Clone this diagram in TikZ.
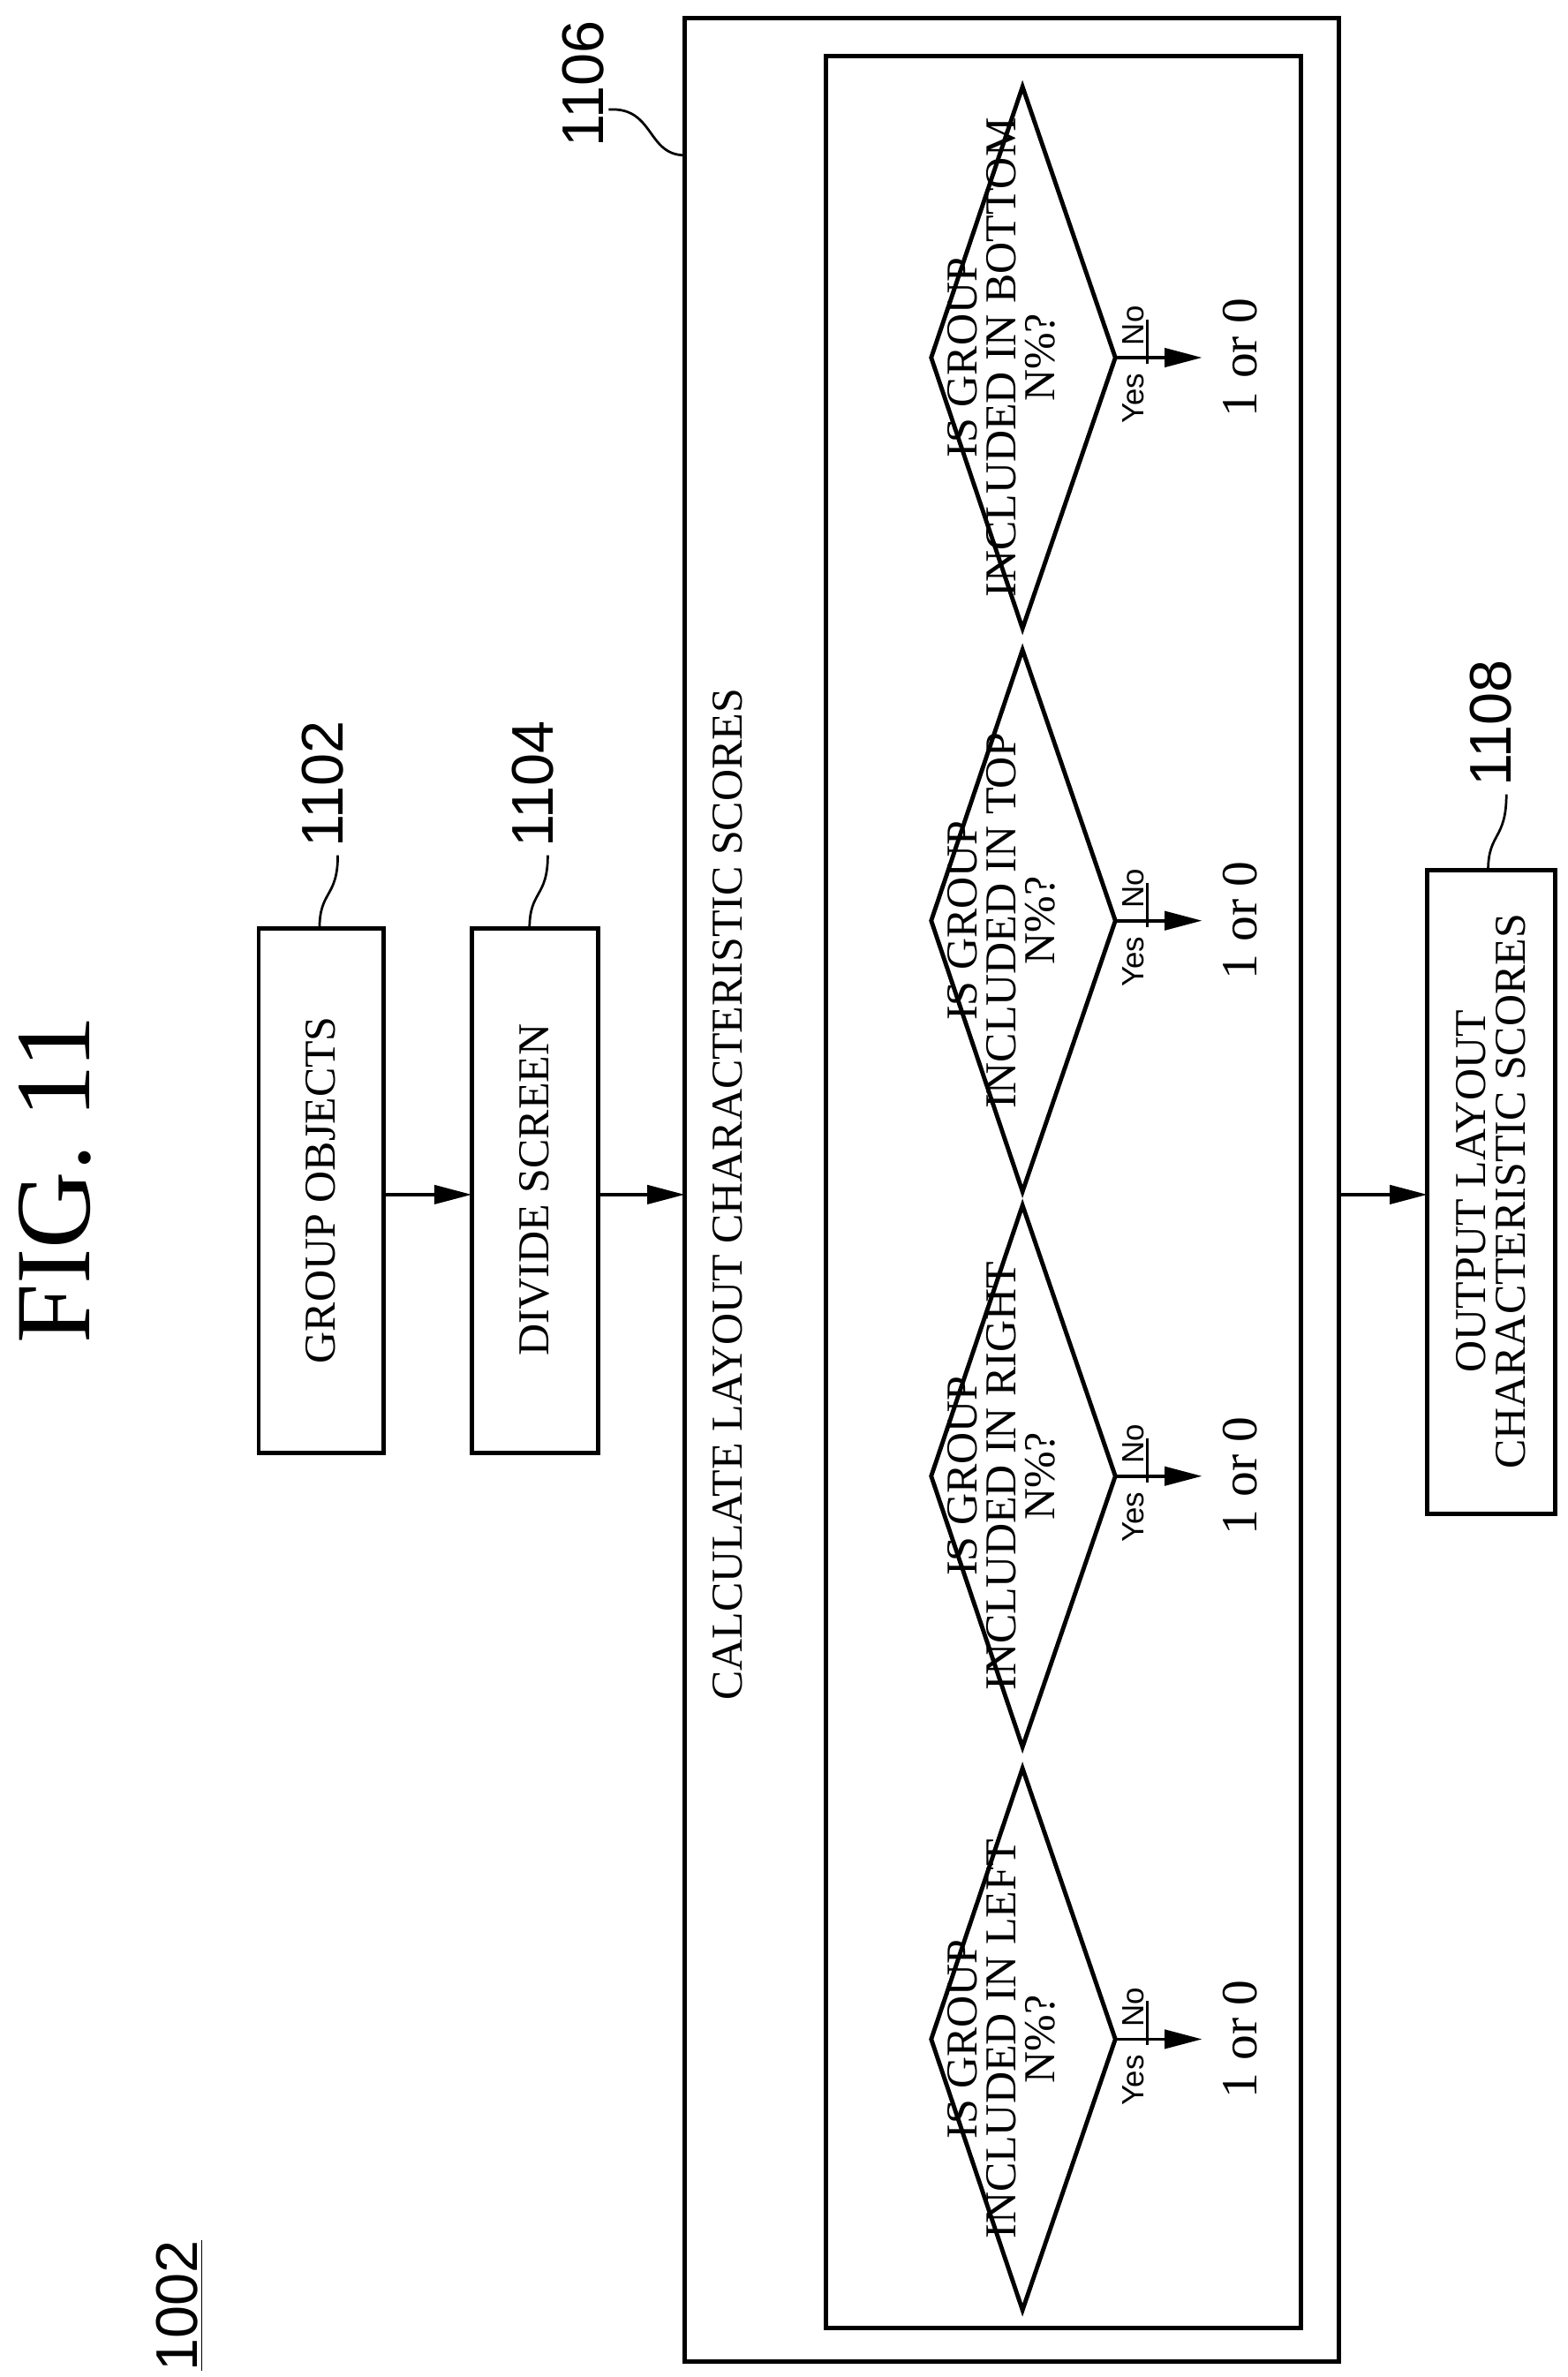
\documentclass[tikz,border=0pt]{standalone}
\usepackage{fontspec}
\setmainfont{Liberation Serif}
\newfontfamily\arial{Liberation Sans}
\usetikzlibrary{arrows.meta}
\begin{document}
\begin{tikzpicture}[x=0.02cm,y=-0.02cm,
  line width=1.6pt,
  box/.style={draw,line width=1.6pt},
  txt/.style={rotate=90,font=\fontsize{16.5}{15}\selectfont,align=center,inner sep=0},
  dtxt/.style={rotate=90,font=\fontsize{16.5}{14.5}\selectfont,align=center,inner sep=0},
  lab/.style={rotate=90,font=\arial\fontsize{22}{24}\selectfont,inner sep=0},
  yn/.style={rotate=90,font=\arial\fontsize{11.5}{12}\selectfont,inner sep=0},
  arr/.style={-{Triangle[length=14pt,width=7pt]},line width=1.2pt},
  squig/.style={line width=0.9pt}]
\useasboundingbox (0,0) rectangle (1030,1562);
\node[rotate=90,font=\fontsize{40}{44}\selectfont,inner sep=0] (fig) at (36,775) {FIG. 11};
\node[lab] (n1002) at (118,1515) {\underline{1002}};
\draw[box] (170,610) rectangle (252,955);
\node[txt] (g) at (211,782) {GROUP OBJECTS};
\coordinate (gR) at (252,785);
\draw[box] (310,610) rectangle (393,955);
\node[txt] (d) at (351,782) {DIVIDE SCREEN};
\coordinate (dL) at (310,785); \coordinate (dR) at (393,785);
\draw[box] (450,12) rectangle (880,1552);
\coordinate (oL) at (450,785); \coordinate (oR) at (880,785);
\draw[box] (543,37) rectangle (855,1530);
\node[txt] (calc) at (478,785) {CALCULATE LAYOUT CHARACTERISTIC SCORES};
\draw[box] (938,572) rectangle (1022,995);
\node[txt] (out) at (980,783) {OUTPUT LAYOUT\\CHARACTERISTIC SCORES};
\coordinate (uL) at (938,785);
\draw[arr] (gR) -- (dL);
\draw[arr] (dR) -- (oL);
\draw[arr] (oR) -- (uL);
\foreach \yc/\w/\i in {1340/LEFT/a,970/RIGHT/b,605/TOP/c,235/BOTTOM/d}{
  \draw[line width=1.6pt] (612,\yc) -- (672,\yc-178) -- (733,\yc) -- (672,\yc+178) -- cycle;
  \node[dtxt] (dia\i) at (658,\yc) {IS GROUP\\INCLUDED IN \w\\N\%?};
  \coordinate (t\i) at (733,\yc);
  \coordinate (e\i) at (790,\yc);
  \draw[arr] (t\i) -- (e\i);
  \draw[line width=1.2pt] (754,\yc-25) -- (754,\yc+4);
  \node[yn] (no\i) at (745,\yc-21) {No};
  \node[yn] (yes\i) at (745,\yc+27) {Yes};
  \node[txt,font=\fontsize{19}{20}\selectfont] (r\i) at (815,\yc) {1 or 0};
}
\node[lab] (l1102) at (212,515) {1102};
\draw[squig] (210,610) .. controls (210,585) and (222,590) .. (222,562);
\node[lab] (l1104) at (350,515) {1104};
\draw[squig] (348,610) .. controls (348,585) and (360,590) .. (360,562);
\node[lab] (l1106) at (383,55) {1106};
\draw[squig] (450,102) .. controls (425,102) and (430,70) .. (400,72);
\node[lab] (l1108) at (980,475) {1108};
\draw[squig] (978,572) .. controls (978,547) and (990,552) .. (990,522);
\end{tikzpicture}
\end{document}
